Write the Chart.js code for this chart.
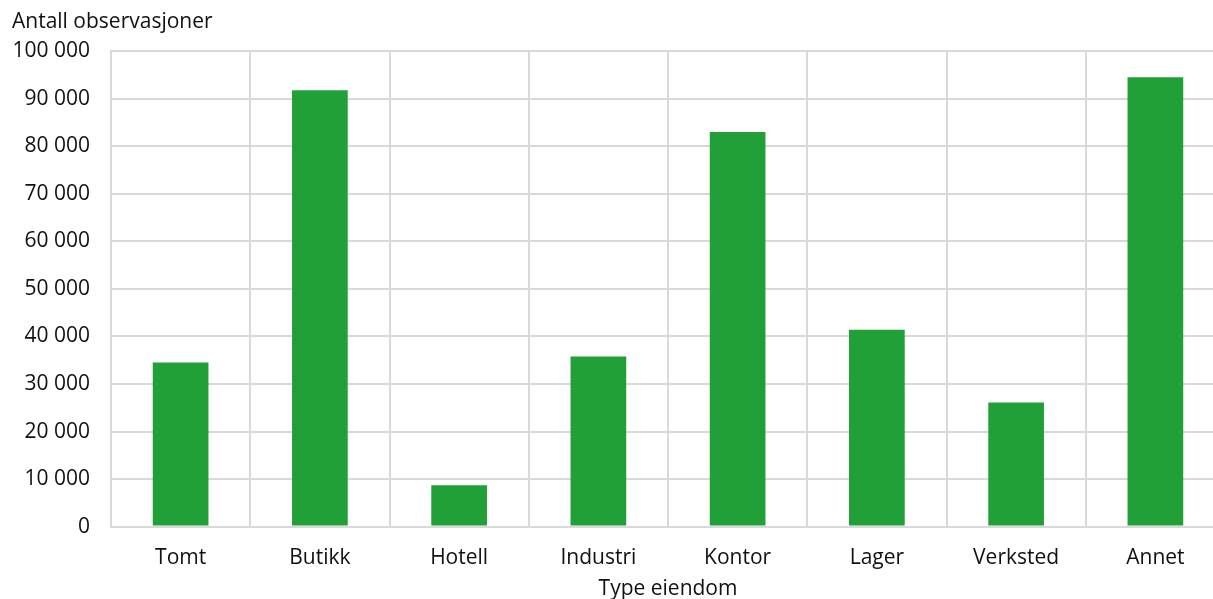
<!DOCTYPE html>
<html>
<head>
<meta charset="utf-8">
<script src="https://cdn.jsdelivr.net/npm/chart.js@4.4.1/dist/chart.umd.min.js"></script>
<style>
  html, body { margin: 0; padding: 0; background: #fff; overflow: hidden; }
  #wrap { width: 1225px; height: 599px; }
</style>
</head>
<body>
<div id="wrap"><canvas id="chart"></canvas></div>
<script>
// Antall observasjoner per type eiendom
const categories = ['Tomt', 'Butikk', 'Hotell', 'Industri', 'Kontor', 'Lager', 'Verksted', 'Annet'];
const observasjoner = [34500, 91800, 8700, 35800, 83000, 41400, 26100, 94500];
const yTicks = [0, 10000, 20000, 30000, 40000, 50000, 60000, 70000, 80000, 90000, 100000];

const fmt = v => String(v).replace(/\B(?=(\d{3})+(?!\d))/g, ' ');
const gridColor = '#d9d9d9';

Chart.defaults.font.family = '"Open Sans", sans-serif';
Chart.defaults.font.size = 21;
Chart.defaults.color = '#111';

new Chart(document.getElementById('chart'), {
  type: 'bar',
  data: {
    labels: categories,
    datasets: [{
      label: 'Antall observasjoner',
      data: observasjoner,
      backgroundColor: '#21a038',
      categoryPercentage: 1,
      barPercentage: 0.4,
    }],
  },
  options: {
    responsive: true,
    maintainAspectRatio: false,
    animation: false,
    layout: { padding: { left: 12, top: 9, right: 0, bottom: -3 } },
    scales: {
      x: {
        grid: { color: gridColor, lineWidth: 2, drawTicks: false, offset: true },
        border: { color: gridColor, width: 2 },
        ticks: { padding: 19 },
        title: { display: true, text: 'Type eiendom', padding: { top: -13, bottom: 0 } },
      },
      y: {
        min: 0,
        max: 100000,
        afterBuildTicks: axis => { axis.ticks = yTicks.map(v => ({ value: v })); },
        afterFit: axis => { axis.width = 99; },
        grid: { color: gridColor, lineWidth: 2, drawTicks: false },
        border: { color: gridColor, width: 2 },
        ticks: { padding: 21, callback: v => fmt(v) },
      },
    },
    plugins: {
      legend: { display: false },
      tooltip: { enabled: false },
      title: {
        display: true,
        text: 'Antall observasjoner',
        align: 'start',
        font: { size: 21, weight: 'normal' },
        padding: { top: 0, bottom: 17 },
      },
    },
  },
});
</script>
</body>
</html>
